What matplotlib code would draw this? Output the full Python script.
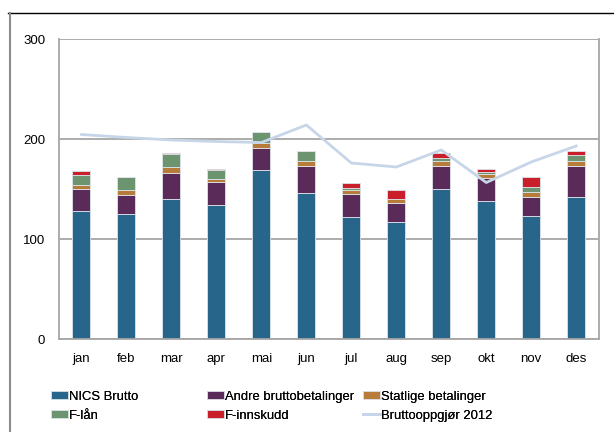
import matplotlib.pyplot as plt
import numpy as np
from matplotlib.lines import Line2D

plt.rcParams['font.family'] = ['Liberation Sans', 'DejaVu Sans']

maaneder = ['jan', 'feb', 'mar', 'apr', 'mai', 'jun', 'jul', 'aug', 'sep', 'okt', 'nov', 'des']
nics_brutto = [128, 125, 140, 134, 169, 146, 122, 117, 150, 138, 123, 142]
andre_brutto = [22.5, 19.5, 26, 23.5, 22.5, 27.5, 23, 19.5, 23.5, 23.5, 19.5, 31.5]
statlige = [4, 4.5, 6, 2.5, 5, 4.5, 4.5, 3.5, 4.5, 4, 4.5, 5]
f_laan = [10, 13, 13, 9.5, 11, 10.5, 2, 0, 3, 1.5, 5, 5.5]
f_innskudd = [4, 0, 1.5, 0.5, 0, 0, 5, 9.5, 5.5, 3, 10.5, 4]
brutto_2012 = [204.5, 201.5, 199, 197.5, 196.5, 214, 176, 172, 189, 156.5, 177, 193]

serier = [
    ('NICS Brutto', nics_brutto, '#27668a'),
    ('Andre bruttobetalinger', andre_brutto, '#5a2b58'),
    ('Statlige betalinger', statlige, '#b87c3a'),
    ('F-lån', f_laan, '#6b946f'),
    ('F-innskudd', f_innskudd, '#c81f2b'),
]

fig = plt.figure(figsize=(6.14, 4.32), dpi=100)
ax = fig.add_axes([59 / 614, 93 / 432, 539.7 / 614, 300 / 432])

x = np.arange(len(maaneder))
bunn = np.zeros(len(maaneder))
handles = {}
for navn, verdier, farge in serier:
    b = ax.bar(x, verdier, width=0.4, bottom=bunn, color=farge,
               edgecolor='#dde4ea', linewidth=0.6, label=navn, zorder=2)
    handles[navn] = b
    bunn = bunn + np.array(verdier)

linje, = ax.plot(x, brutto_2012, color='#c6d6e8', linewidth=2, zorder=3,
                 label='Bruttooppgjør 2012')
handles['Bruttooppgjør 2012'] = linje

ax.set_xlim(-0.5, 11.5)
ax.set_ylim(0, 300)
ax.set_yticks([0, 100, 200, 300])
ax.set_xticks(x)
ax.set_xticklabels(maaneder)
ax.tick_params(axis='both', length=0, labelsize=9.5)
ax.tick_params(axis='y', pad=10)
ax.tick_params(axis='x', pad=10)
ax.yaxis.grid(True, color='#a6a6a6', linewidth=1.3)
ax.set_axisbelow(True)
for side in ['left', 'right', 'bottom']:
    ax.spines[side].set_color('#a6a6a6')
    ax.spines[side].set_linewidth(1.3)
ax.spines['top'].set_visible(False)

# legende i tre kolonner
kolonner = [
    (51, ['NICS Brutto', 'F-lån']),
    (207, ['Andre bruttobetalinger', 'F-innskudd']),
    (363, ['Statlige betalinger', 'Bruttooppgjør 2012']),
]
for xpos, navn in kolonner:
    leg = fig.legend([handles[n] for n in navn], navn, loc='upper left',
                     bbox_to_anchor=(xpos / 614, 1 - 391 / 432), frameon=False,
                     fontsize=9.4, borderpad=0, borderaxespad=0,
                     handlelength=1.3, handleheight=0.55, handletextpad=0.1,
                     labelspacing=0.5)
    fig.add_artist(leg)

# ramme rundt figuren
fig.add_artist(Line2D([8 / 614, 1], [1 - 13 / 432] * 2, color='black', linewidth=1))
fig.add_artist(Line2D([9.5 / 614] * 2, [0, 1 - 13 / 432], color='#8c8c8c', linewidth=1.5))

fig.savefig('out.png', dpi=100)
